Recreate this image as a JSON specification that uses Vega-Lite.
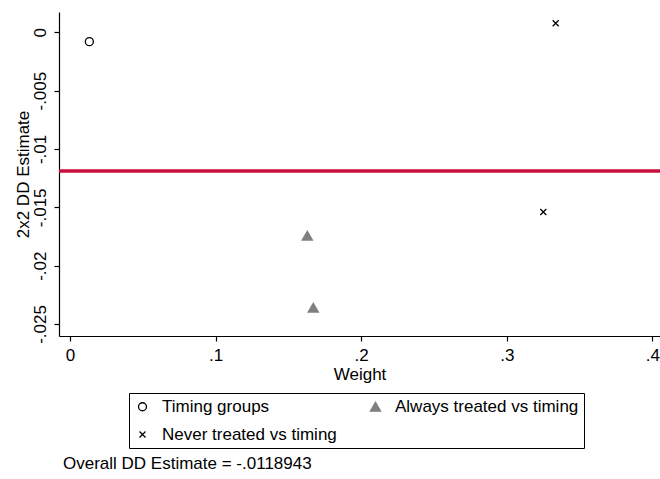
{
  "$schema": "https://vega.github.io/schema/vega-lite/v6.json",
  "width": 601,
  "height": 324,
  "autosize": {"type": "none"},
  "padding": {"left": 59, "top": 12, "right": 0, "bottom": 143},
  "background": "white",
  "config": {
    "view": {"stroke": null},
    "font": "Liberation Sans",
    "axis": {
      "grid": false,
      "domainColor": "black",
      "domainWidth": 1.2,
      "tickColor": "black",
      "tickWidth": 1.2,
      "tickSize": 5,
      "labelColor": "black",
      "labelFontSize": 17,
      "labelFont": "Liberation Sans",
      "titleColor": "black",
      "titleFontSize": 17,
      "titleFont": "Liberation Sans",
      "titleFontWeight": "normal"
    }
  },
  "title": {
    "text": "Overall DD Estimate = -.0118943",
    "orient": "bottom",
    "anchor": "start",
    "frame": "group",
    "offset": 7,
    "dx": 4,
    "fontSize": 17,
    "fontWeight": "normal",
    "font": "Liberation Sans",
    "color": "black"
  },
  "datasets": {
    "points": [
      {"group": "Timing groups", "weight": 0.0133, "estimate": -0.0008},
      {"group": "Never treated vs timing", "weight": 0.3336, "estimate": 0.00077},
      {"group": "Never treated vs timing", "weight": 0.3251, "estimate": -0.0154},
      {"group": "Always treated vs timing", "weight": 0.1630, "estimate": -0.01743},
      {"group": "Always treated vs timing", "weight": 0.1671, "estimate": -0.0236}
    ],
    "overall": [
      {"estimate": -0.0118943}
    ]
  },
  "layer": [
    {
      "data": {"name": "overall"},
      "mark": {"type": "rule", "color": "#c8103c", "strokeWidth": 3.5},
      "encoding": {"y": {"field": "estimate", "type": "quantitative"}}
    },
    {
      "data": {"name": "points"},
      "mark": {"type": "point", "strokeWidth": 1.3, "opacity": 1},
      "encoding": {
        "x": {
          "field": "weight",
          "type": "quantitative",
          "title": "Weight",
          "scale": {"domain": [-0.00755, 0.40525], "nice": false, "zero": false},
          "axis": {
            "values": [0, 0.1, 0.2, 0.3, 0.4],
            "labelExpr": "(datum.value < 0 ? '-' : '') + replace(format(abs(datum.value), '.1~f'), '0.', '.')",
            "labelPadding": 6,
            "titlePadding": 3,
            "labelFlush": false
          }
        },
        "y": {
          "field": "estimate",
          "type": "quantitative",
          "title": "2x2 DD Estimate",
          "scale": {"domain": [-0.02603, 0.00174], "nice": false, "zero": false},
          "axis": {
            "values": [0, -0.005, -0.01, -0.015, -0.02, -0.025],
            "labelExpr": "(datum.value < 0 ? '-' : '') + replace(format(abs(datum.value), '.3~f'), '0.', '.')",
            "labelAngle": -90,
            "labelAlign": "center",
            "labelBaseline": "bottom",
            "labelPadding": 5,
            "titlePadding": -1,
            "labelFlush": false
          }
        },
        "shape": {
          "field": "group",
          "type": "nominal",
          "title": null,
          "scale": {
            "domain": ["Timing groups", "Always treated vs timing", "Never treated vs timing"],
            "range": ["circle", "triangle-up", "M-0.5,-0.5L0.5,0.5M-0.5,0.5L0.5,-0.5"]
          }
        },
        "stroke": {
          "field": "group",
          "type": "nominal",
          "title": null,
          "scale": {
            "domain": ["Timing groups", "Always treated vs timing", "Never treated vs timing"],
            "range": ["black", "#808080", "black"]
          }
        },
        "fill": {
          "field": "group",
          "type": "nominal",
          "title": null,
          "scale": {
            "domain": ["Timing groups", "Always treated vs timing", "Never treated vs timing"],
            "range": ["transparent", "#808080", "transparent"]
          }
        },
        "size": {
          "field": "group",
          "type": "nominal",
          "title": null,
          "scale": {
            "domain": ["Timing groups", "Always treated vs timing", "Never treated vs timing"],
            "range": [64, 144, 64]
          },
          "legend": {
            "orient": "none",
            "legendX": 70,
            "legendY": 381,
            "direction": "horizontal",
            "columns": 2,
            "columnPadding": 30,
            "rowPadding": 10,
            "padding": 5,
            "strokeColor": "black",
            "fillColor": "white",
            "labelFontSize": 17,
            "labelFont": "Liberation Sans",
            "labelColor": "black",
            "labelOffset": 11,
            "labelLimit": 400,
            "symbolStrokeWidth": 1.3,
            "symbolOpacity": 1
          }
        }
      }
    }
  ]
}
